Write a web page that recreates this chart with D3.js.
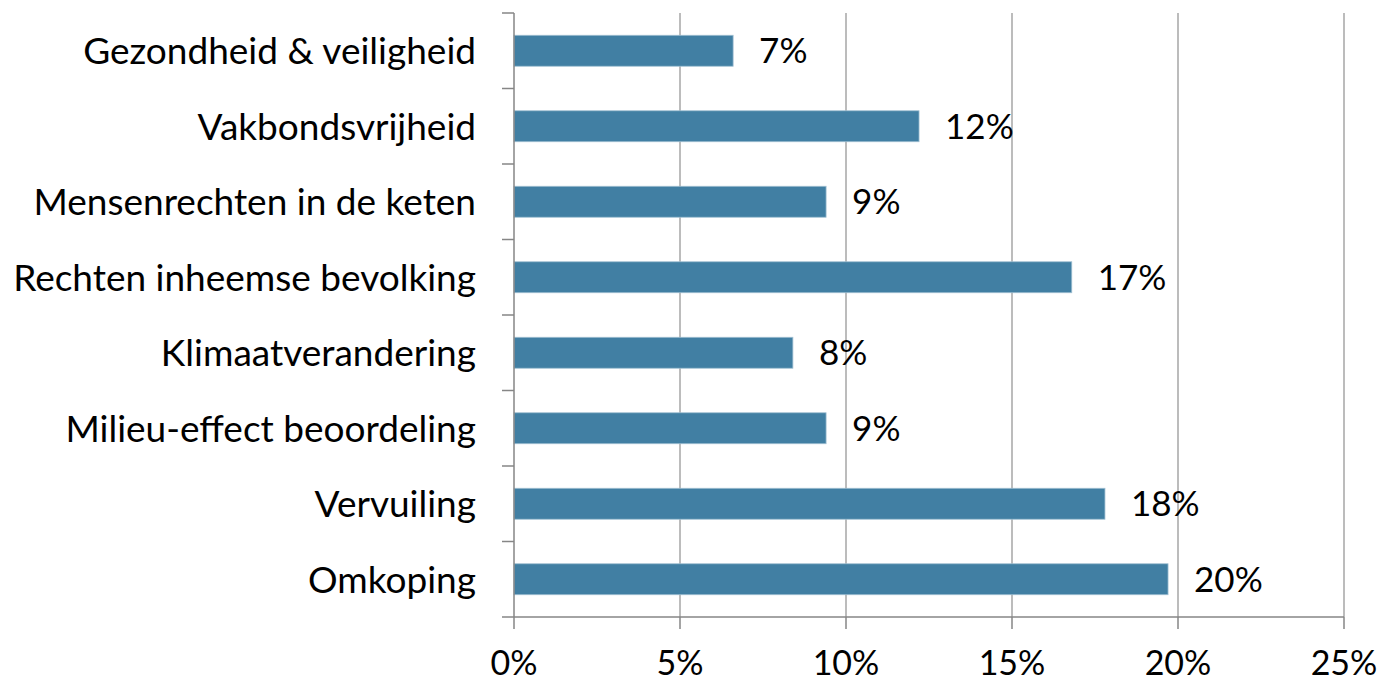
<!DOCTYPE html>
<html>
<head>
<meta charset="utf-8">
<script src="https://cdn.jsdelivr.net/npm/d3@7"></script>
<style>
  body { margin: 0; background: #fff; }
  text { font-family: Lato, "Open Sans", sans-serif; fill: #000; }
</style>
</head>
<body>
<div id="chart"></div>
<script>
// data
var categories = ["Gezondheid & veiligheid", "Vakbondsvrijheid", "Mensenrechten in de keten",
    "Rechten inheemse bevolking", "Klimaatverandering", "Milieu-effect beoordeling",
    "Vervuiling", "Omkoping"];
var values = [6.6, 12.2, 9.4, 16.8, 8.4, 9.4, 17.8, 19.7];
var valueLabels = ["7%", "12%", "9%", "17%", "8%", "9%", "18%", "20%"];
var xTicks = [0, 5, 10, 15, 20, 25];

var width = 1386, height = 683;
var margin = {top: 13, right: 42, bottom: 66, left: 514};

var svg = d3.select("#chart")
    .append("svg")
    .attr("width", width)
    .attr("height", height);

var x = d3.scaleLinear()
    .domain([0, 25])
    .range([margin.left, width - margin.right]);

var y = d3.scaleBand()
    .domain(categories)
    .range([margin.top, height - margin.bottom])
    .paddingInner(0.59)
    .paddingOuter(0.295);

var step = y.step();

// vertical gridlines
svg.selectAll(".grid")
    .data(xTicks.slice(1))
    .enter()
    .append("line")
    .attr("x1", function (d) { return x(d); })
    .attr("x2", function (d) { return x(d); })
    .attr("y1", margin.top)
    .attr("y2", height - margin.bottom)
    .attr("stroke", "#a6a6a6")
    .attr("stroke-width", 1.5);

// bars
svg.selectAll(".bar")
    .data(values)
    .enter()
    .append("rect")
    .attr("x", x(0))
    .attr("y", function (d, i) { return y(categories[i]); })
    .attr("width", function (d) { return x(d) - x(0); })
    .attr("height", y.bandwidth())
    .attr("fill", "#417fa3")
    .attr("stroke", "#9fbfd2")
    .attr("stroke-width", 0.8);

// value labels
svg.selectAll(".val")
    .data(values)
    .enter()
    .append("text")
    .attr("x", function (d) { return x(d) + 26; })
    .attr("y", function (d, i) { return y(categories[i]) + y.bandwidth() / 2; })
    .attr("dy", "0.36em")
    .style("font-size", "35px")
    .text(function (d, i) { return valueLabels[i]; });

// y axis
var yAxisG = svg.append("g");
yAxisG.append("line")
    .attr("x1", x(0)).attr("x2", x(0))
    .attr("y1", margin.top).attr("y2", height - margin.bottom)
    .attr("stroke", "#868686").attr("stroke-width", 1.5);

var yTickPos = d3.range(categories.length + 1).map(function (i) {
    return margin.top + i * step;
});
yAxisG.selectAll(".ytick")
    .data(yTickPos)
    .enter()
    .append("line")
    .attr("x1", x(0) - 12).attr("x2", x(0))
    .attr("y1", function (d) { return d; })
    .attr("y2", function (d) { return d; })
    .attr("stroke", "#868686").attr("stroke-width", 1.5);

yAxisG.selectAll(".ylab")
    .data(categories)
    .enter()
    .append("text")
    .attr("x", x(0) - 38)
    .attr("y", function (d) { return y(d) + y.bandwidth() / 2; })
    .attr("dy", "0.36em")
    .attr("text-anchor", "end")
    .style("font-size", "37px")
    .text(function (d) { return d; });

// x axis
var xAxisG = svg.append("g");
xAxisG.append("line")
    .attr("x1", x(0)).attr("x2", x(25))
    .attr("y1", height - margin.bottom).attr("y2", height - margin.bottom)
    .attr("stroke", "#868686").attr("stroke-width", 1.5);

xAxisG.selectAll(".xtick")
    .data(xTicks)
    .enter()
    .append("line")
    .attr("x1", function (d) { return x(d); })
    .attr("x2", function (d) { return x(d); })
    .attr("y1", height - margin.bottom)
    .attr("y2", height - margin.bottom + 12)
    .attr("stroke", "#868686").attr("stroke-width", 1.5);

xAxisG.selectAll(".xlab")
    .data(xTicks)
    .enter()
    .append("text")
    .attr("x", function (d) { return x(d); })
    .attr("y", height - margin.bottom + 46)
    .attr("dy", "0.36em")
    .attr("text-anchor", "middle")
    .style("font-size", "34px")
    .text(function (d) { return d + "%"; });
</script>
</body>
</html>
